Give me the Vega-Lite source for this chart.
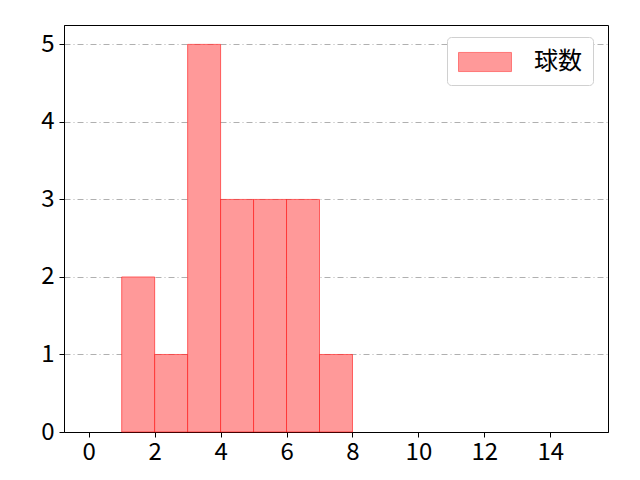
{
  "$schema": "https://vega.github.io/schema/vega-lite/v6.json",
  "width": 544,
  "height": 407,
  "autosize": {"type": "none"},
  "padding": {"left": 64, "top": 25, "right": 32, "bottom": 48},
  "background": "white",
  "data": {
    "values": [
      {"bin_start": 1, "bin_end": 2, "count": 2, "series": "球数"},
      {"bin_start": 2, "bin_end": 3, "count": 1, "series": "球数"},
      {"bin_start": 3, "bin_end": 4, "count": 5, "series": "球数"},
      {"bin_start": 4, "bin_end": 5, "count": 3, "series": "球数"},
      {"bin_start": 5, "bin_end": 6, "count": 3, "series": "球数"},
      {"bin_start": 6, "bin_end": 7, "count": 3, "series": "球数"},
      {"bin_start": 7, "bin_end": 8, "count": 1, "series": "球数"}
    ]
  },
  "mark": {"type": "bar", "stroke": "#ff0000", "strokeOpacity": 0.55, "strokeWidth": 1},
  "encoding": {
    "x": {
      "field": "bin_start",
      "type": "quantitative",
      "title": null,
      "scale": {"domain": [-0.75, 15.75], "nice": false, "zero": false},
      "axis": {"values": [0, 2, 4, 6, 8, 10, 12, 14], "grid": false, "labelPadding": 3}
    },
    "x2": {"field": "bin_end"},
    "y": {
      "field": "count",
      "type": "quantitative",
      "title": null,
      "scale": {"domain": [0, 5.25], "nice": false},
      "axis": {"values": [0, 1, 2, 3, 4, 5], "grid": true, "labelPadding": 5}
    },
    "y2": {"datum": 0},
    "color": {
      "field": "series",
      "type": "nominal",
      "scale": {"range": ["#ff9999"]},
      "legend": {
        "title": null,
        "orient": "none",
        "legendX": 383,
        "legendY": 12,
        "padding": 11,
        "strokeColor": "#d0d0d0",
        "fillColor": "white",
        "cornerRadius": 4,
        "symbolType": "M-2,-0.72H2V0.72H-2Z",
        "symbolSize": 702,
        "symbolOffset": 13,
        "symbolStrokeColor": "#ff7777",
        "symbolStrokeWidth": 1,
        "symbolOpacity": 1,
        "labelFontSize": 24,
        "labelFont": "Noto Sans CJK JP",
        "labelColor": "black",
        "labelOffset": 35
      }
    }
  },
  "config": {
    "view": {"stroke": "black", "strokeWidth": 1},
    "axis": {
      "domainColor": "black",
      "tickColor": "black",
      "tickSize": 5,
      "labelFont": "Noto Sans CJK JP",
      "labelFontSize": 24,
      "labelColor": "black",
      "gridColor": "#b0b0b0",
      "gridDash": [6, 3, 1, 3],
      "gridWidth": 1
    }
  }
}
